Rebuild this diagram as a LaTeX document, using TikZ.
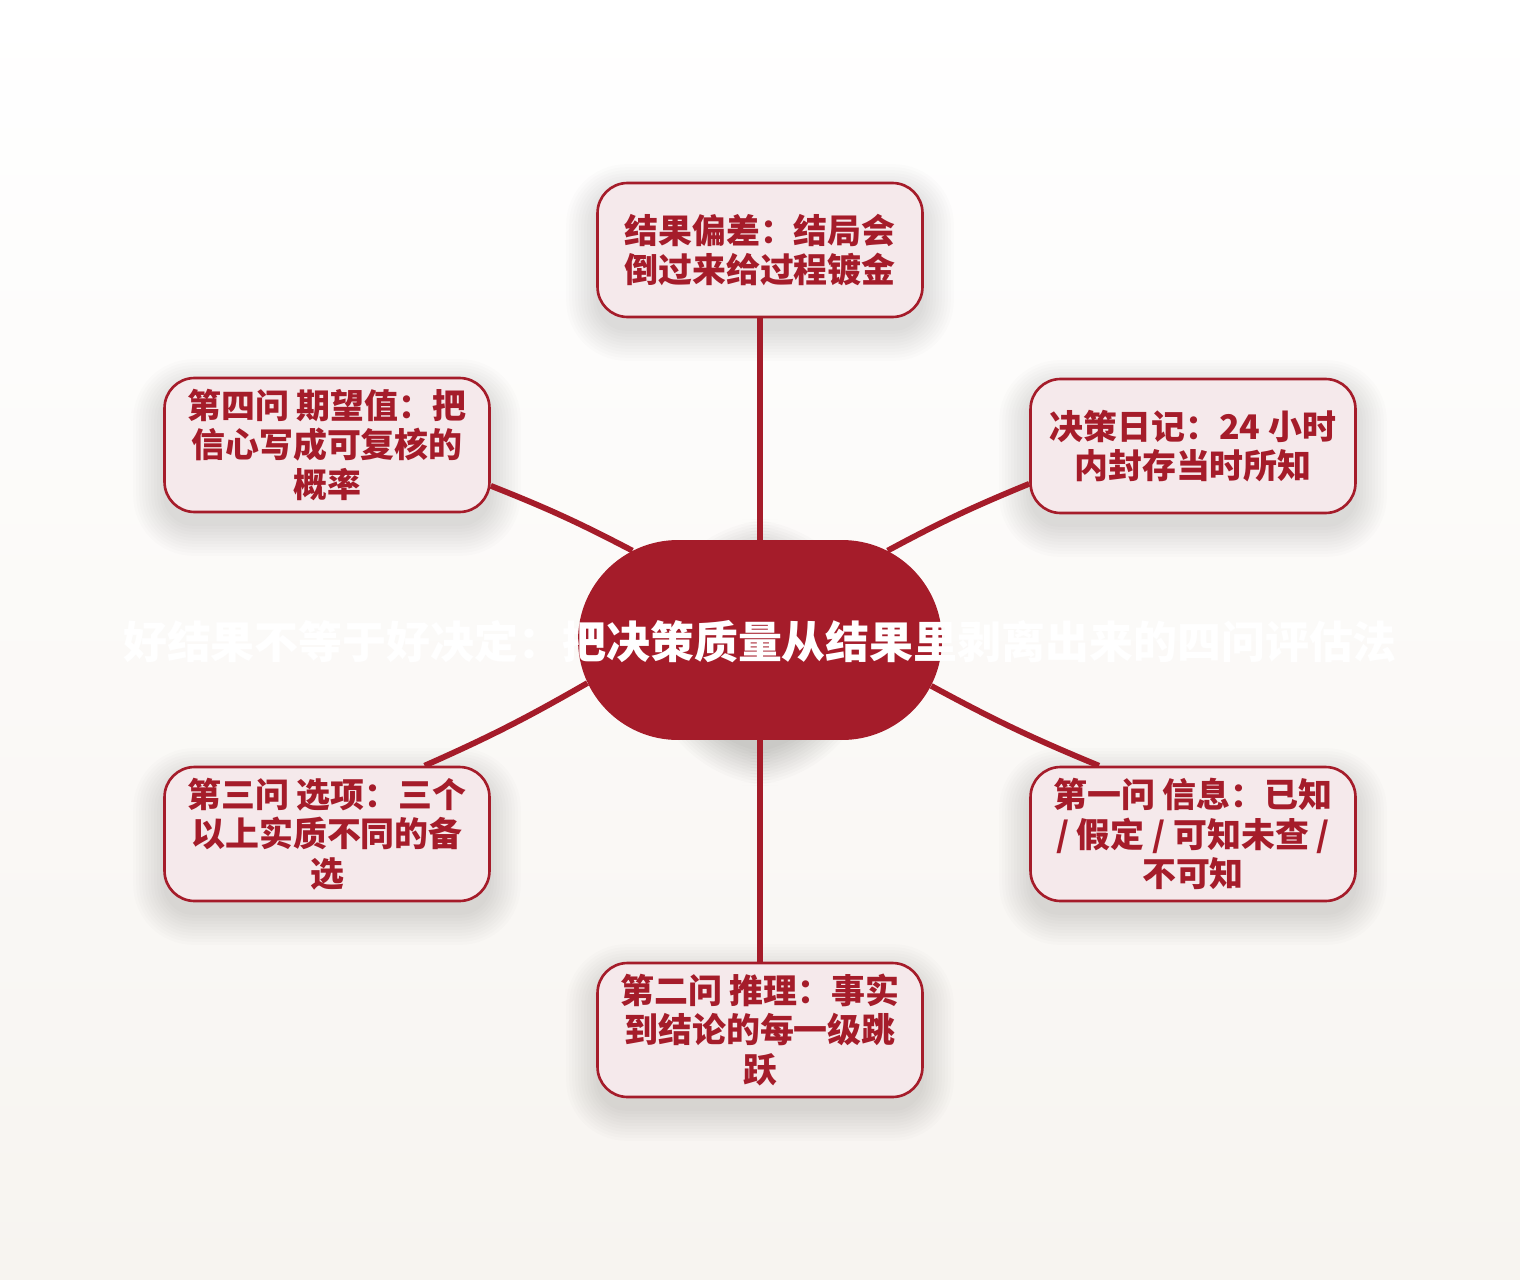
\documentclass[tikz,border=0pt]{standalone}
\usepackage{fontspec}
\setmainfont{Noto Sans CJK SC}
\usetikzlibrary{shapes.misc}
\definecolor{brand}{RGB}{165,28,42}
\definecolor{boxfill}{RGB}{245,233,235}
\definecolor{bgbot}{RGB}{247,244,240}
\newcommand\lowr[1]{\raisebox{-1.7pt}{#1}}
\pgfdeclarelayer{back}
\pgfdeclarelayer{shadowlayer}
\pgfdeclarelayer{edges}
\pgfsetlayers{back,shadowlayer,edges,main}
\begin{document}
\begin{tikzpicture}[x=0.02cm,y=-0.02cm,
  leaf/.style={draw=brand, line width=1.5pt, fill=boxfill, rounded corners=0.6cm,
    minimum width=6.5cm, minimum height=2.68cm, align=center, text=brand,
    font=\fontsize{19.3}{22.6}\selectfont\bfseries, inner sep=0pt},
  hub/.style={rounded rectangle, fill=brand, minimum width=7.28cm, minimum height=4cm,
    inner sep=0pt},
  link/.style={draw=brand, line width=3.3pt},
  titletext/.style={text=white, font=\fontsize{25}{30}\selectfont\bfseries, inner sep=0pt},
  softshadow/.style={fill=black, opacity=0.011}
]
\begin{pgfonlayer}{back}
\shade[top color=white, bottom color=bgbot] (0,0) rectangle (1520,1280);
\end{pgfonlayer}
\useasboundingbox (0,0) rectangle (1520,1280);

\node[hub] (c) at (760,640) {};
\node[titletext] (ctext) at (760,642) {好结果不等于好决定：把决策质量从结果里剥离出来的四问评估法};

\node[leaf] (t)  at (760,250)  {\lowr{结果偏差：结局会}\\\lowr{倒过来给过程镀金}};
\node[leaf] (rt) at (1193,446) {\lowr{决策日记：24 小时}\\\lowr{内封存当时所知}};
\node[leaf] (lt) at (327,445)  {\lowr{第四问 期望值：把}\\\lowr{信心写成可复核的}\\\lowr{概率}};
\node[leaf] (lb) at (327,834)  {\lowr{第三问 选项：三个}\\\lowr{以上实质不同的备}\\\lowr{选}};
\node[leaf] (rb) at (1193,834) {\lowr{第一问 信息：已知}\\\lowr{/ 假定 / 可知未查 /}\\\lowr{不可知}};
\node[leaf] (b)  at (760,1030) {\lowr{第二问 推理：事实}\\\lowr{到结论的每一级跳}\\\lowr{跃}};

\begin{pgfonlayer}{shadowlayer}
\foreach \n in {t,rt,lt,lb,rb,b} {
  \foreach \k [evaluate=\k as \r using 0.6+\k*0.02] in {0,3,...,30} {
    \fill[softshadow, rounded corners=\r cm]
      ([xshift=-\k*0.02cm, yshift=-\k*0.02cm-0.25cm]\n.south west) rectangle
      ([xshift=\k*0.02cm, yshift=\k*0.02cm-0.25cm]\n.north east);
  }
}
\foreach \k [evaluate=\k as \r using 2+\k*0.02] in {0,3,...,33} {
  \fill[fill=black, opacity=0.014, rounded corners=\r cm]
    ([xshift=-\k*0.02cm, yshift=-\k*0.02cm-0.25cm]c.south west) rectangle
    ([xshift=\k*0.02cm, yshift=\k*0.02cm-0.25cm]c.north east);
}
\end{pgfonlayer}

\begin{pgfonlayer}{edges}
\draw[link] (c.north) -- (t.south);
\draw[link] (c.south) -- (b.north);
\draw[link] (c.35) to[bend left=3] (rt.193.5);
\draw[link] (c.145.3) to[bend right=3] (lt.346.2);
\draw[link] (c.194.1) to[bend left=3] (lb.35.8);
\draw[link] (c.345.9) to[bend right=3] (rb.144.2);
\end{pgfonlayer}
\end{tikzpicture}
\end{document}
